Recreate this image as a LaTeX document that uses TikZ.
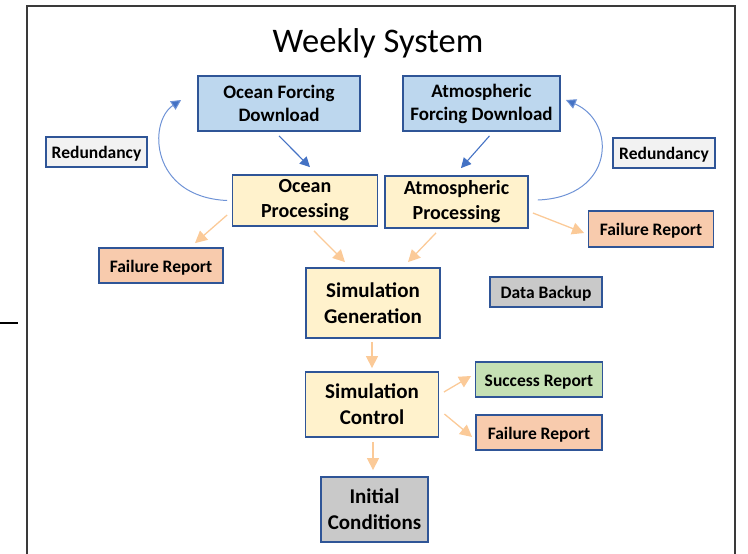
\documentclass[tikz,border=0pt]{standalone}
\usepackage{fontspec}
\setmainfont{Carlito}
\usetikzlibrary{arrows.meta,calc}
\definecolor{boxline}{HTML}{2F5597}
\definecolor{bluefill}{HTML}{BDD7EE}
\definecolor{yellowfill}{HTML}{FFF2CC}
\definecolor{orangefill}{HTML}{F8CBAD}
\definecolor{greenfill}{HTML}{C5E0B4}
\definecolor{grayfill}{HTML}{C9C9C9}
\definecolor{lightfill}{HTML}{F2F2F2}
\definecolor{bluearrow}{HTML}{4472C4}
\definecolor{bluecurve}{HTML}{6F93D6}
\definecolor{orangearrow}{HTML}{FBCA98}
\definecolor{framecol}{HTML}{3A3A3A}
\tikzset{
  box/.style={draw=boxline, line width=1.8pt, rectangle, align=center, inner sep=0pt,
    font=\bfseries},
  sz/.style 2 args={minimum width=#1pt, minimum height=#2pt},
  fdl/.style={box, fill=bluefill, font=\bfseries\fontsize{19}{23}\selectfont},
  proc/.style={box, fill=yellowfill, font=\bfseries\fontsize{20}{25}\selectfont},
  main/.style={box, fill=yellowfill, font=\bfseries\fontsize{21}{26}\selectfont},
  small/.style={box, font=\bfseries\fontsize{17.5}{21}\selectfont,
    text height=17pt, text depth=3.5pt},
  bluelink/.style={draw=bluearrow, line width=1.1pt, -{Triangle[length=10pt,width=10pt]}},
  bluebend/.style={draw=bluecurve, line width=1pt, -{Triangle[length=10pt,width=10pt,fill=bluearrow]}},
  orangelink/.style={draw=orangearrow, line width=1.3pt, -{Triangle[length=12pt,width=12pt]}},
}
\begin{document}
\begin{tikzpicture}[x=1pt,y=-1pt]
\useasboundingbox (0,0) rectangle (748,554);
% outer frame and the short stub on the left
\draw[framecol, line width=2pt] (27,554) -- (27,6) -- (735,6) -- (735,554);
\draw[black, line width=1.6pt] (0,323) -- (18,323);

\node[font=\fontsize{34.5}{40}\selectfont] (title) at (378,43) {Weekly System};

% download boxes
\node[fdl, sz={162}{55}] (ofd) at (279,103.5) {Ocean Forcing\\Download};
\node[fdl, sz={157}{55}] (afd) at (481.5,103.5) {Atmospheric\\Forcing Download};

% redundancy labels
\node[small, fill=lightfill, sz={101}{30}] (redL) at (96.5,152) {Redundancy};
\node[small, fill=lightfill, sz={102}{30}] (redR) at (664,153) {Redundancy};

% processing boxes
\node[proc, sz={145}{51}] (op) at (305,200.5) {Ocean\\Processing};
\node[proc, sz={143}{52}] (ap) at (456.5,202) {Atmospheric\\Processing};

% failure reports of the processing step
\node[small, fill=orangefill, sz={124}{35}] (frL) at (161,265.5) {Failure Report};
\node[small, fill=orangefill, sz={125}{36}] (frR) at (651,229) {Failure Report};

% simulation chain
\node[main, sz={134}{70}] (sg) at (373,303) {Simulation\\Generation};
\node[small, fill=grayfill, sz={112}{30}] (db) at (546,292) {Data Backup};
\node[main, sz={133}{65}] (sc) at (372,404.5) {Simulation\\Control};
\node[main, fill=grayfill, sz={107}{65}] (ic) at (374.5,509.5) {Initial\\Conditions};
\node[small, fill=greenfill, sz={127}{35}] (sr) at (539,379.5) {Success Report};
\node[small, fill=orangefill, sz={126}{35}] (fr3) at (539,432.5) {Failure Report};

% download -> processing
\draw[bluelink] ($(ofd.south)+(0,4)$) -- ($(op.north)+(5,-7)$);
\draw[bluelink] ($(afd.south)+(8,4)$) -- ($(ap.north)+(4.5,-7)$);

% redundancy loops back to the downloads
\coordinate (loopL) at ($(ofd.west)+(-16,-3.5)$);
\coordinate (loopR) at ($(afd.east)+(5,-3.5)$);
\draw[bluebend] ($(op.west)+(-4.5,0)$) .. controls (150,197) and (148,122) .. (loopL);
\draw[bluebend] ($(ap.east)+(9,-2)$) .. controls (615,197) and (617,122) .. (loopR);

% processing -> generation and failure reports
\draw[orangelink] ($(op.west)+(-4.5,14.5)$) -- ($(frL.north)+(34,-4)$);
\draw[orangelink] ($(op.south)+(9,4)$) -- ($(sg.north)+(-28,-5)$);
\draw[orangelink] ($(ap.south)+(-20.5,4)$) -- ($(sg.north)+(35,-5)$);
\draw[orangelink] ($(ap.east)+(4,11)$) -- ($(frR.west)+(-3.5,4)$);

% generation -> control -> outcomes
\draw[orangelink] ($(sg.south)+(-1,3)$) -- ($(sc.north)+(0,-3)$);
\draw[orangelink] ($(sc.east)+(4.5,-12.5)$) -- ($(sr.west)+(-3.5,-3.5)$);
\draw[orangelink] ($(sc.east)+(5,9.5)$) -- ($(fr3.west)+(-3,4.5)$);
\draw[orangelink] ($(sc.south)+(1,4)$) -- ($(ic.north)+(-1.5,-6)$);
\end{tikzpicture}
\end{document}
